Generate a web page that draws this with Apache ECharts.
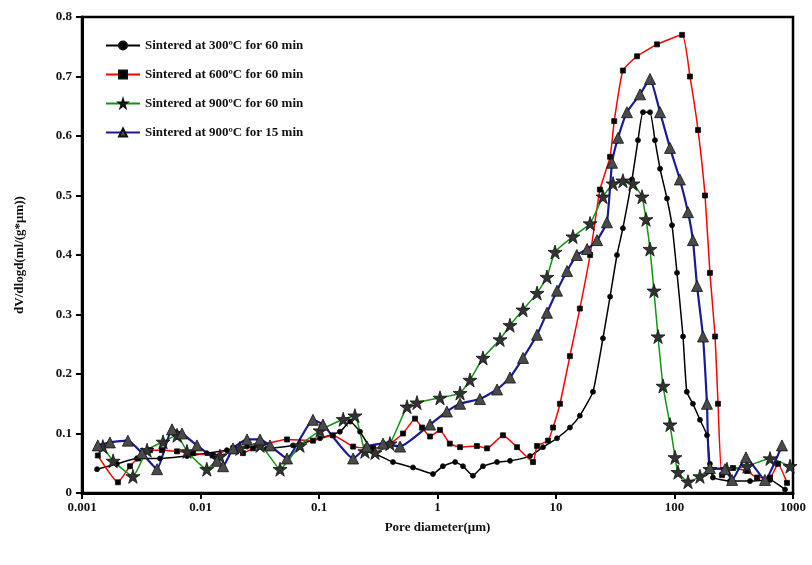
<!DOCTYPE html>
<html>
<head>
<meta charset="utf-8">
<script src="https://cdn.jsdelivr.net/npm/echarts@6/dist/echarts.min.js"></script>
<style>html,body{margin:0;padding:0;background:#fff}#c{width:812px;height:565px}</style>
</head>
<body>
<div id="c"></div>
<script>
var seriesNames = ['Sintered at 300ºC for 60 min','Sintered at 600ºC for 60 min','Sintered at 900ºC for 60 min','Sintered at 900ºC for 15 min'];
var xTickLabels = ['0.001','0.01','0.1','1','10','100','1000'];
var yTickLabels = ['0','0.1','0.2','0.3','0.4','0.5','0.6','0.7','0.8'];

var s300_60 = [[0.00134,0.04],[0.00197,0.049],[0.00291,0.058],[0.00455,0.058],[0.00769,0.062],[0.0113,0.067],[0.0167,0.072],[0.0247,0.078],[0.0364,0.075],[0.0604,0.08],[0.102,0.092],[0.150,0.103],[0.183,0.12],[0.222,0.103],[0.286,0.069],[0.421,0.052],[0.621,0.043],[0.916,0.032],[1.11,0.045],[1.41,0.052],[1.64,0.045],[1.99,0.029],[2.42,0.045],[3.18,0.052],[4.09,0.054],[6.04,0.062],[7.76,0.077],[10.2,0.092],[13.1,0.11],[15.9,0.13],[20.5,0.17],[24.9,0.26],[28.6,0.33],[32.7,0.40],[36.7,0.445],[43.8,0.527],[49.2,0.593],[54.2,0.64],[62.1,0.64],[68.4,0.593],[75.5,0.545],[86.4,0.495],[95.3,0.45],[105,0.37],[118,0.263],[127,0.17],[143,0.15],[164,0.123],[188,0.097],[199,0.049],[211,0.026],[294,0.02],[434,0.02],[640,0.022],[856,0.006]];
var s600_60 = [[0.00136,0.063],[0.00201,0.018],[0.00254,0.045],[0.00297,0.058],[0.00375,0.072],[0.00473,0.072],[0.00634,0.07],[0.00865,0.067],[0.0127,0.063],[0.0188,0.075],[0.0228,0.067],[0.0277,0.075],[0.0318,0.08],[0.0537,0.09],[0.0889,0.088],[0.131,0.097],[0.194,0.078],[0.286,0.075],[0.397,0.083],[0.512,0.1],[0.646,0.125],[0.740,0.11],[0.865,0.095],[1.05,0.106],[1.27,0.083],[1.55,0.077],[2.15,0.079],[2.62,0.075],[3.57,0.097],[4.69,0.077],[6.40,0.052],[6.92,0.079],[8.56,0.088],[9.44,0.11],[10.8,0.15],[13.1,0.23],[15.9,0.31],[19.4,0.40],[23.5,0.51],[28.6,0.565],[31.0,0.625],[36.7,0.71],[48.3,0.734],[71.2,0.754],[116,0.77],[135,0.70],[158,0.61],[181,0.50],[199,0.37],[220,0.263],[233,0.15],[252,0.03],[312,0.042],[409,0.037],[497,0.026],[640,0.026],[747,0.049],[890,0.017]];
var s900_60 = [[0.0015,0.078],[0.00183,0.054],[0.00269,0.028],[0.00354,0.072],[0.00483,0.086],[0.00634,0.097],[0.00769,0.07],[0.0113,0.04],[0.0146,0.062],[0.0215,0.075],[0.0318,0.08],[0.0469,0.04],[0.0691,0.08],[0.102,0.105],[0.160,0.124],[0.201,0.13],[0.244,0.07],[0.297,0.068],[0.397,0.083],[0.553,0.145],[0.671,0.152],[1.05,0.16],[1.55,0.168],[1.88,0.19],[2.42,0.227],[3.37,0.258],[4.09,0.282],[5.27,0.308],[6.92,0.336],[8.39,0.363],[9.81,0.405],[13.9,0.431],[19.4,0.453],[24.9,0.498],[30.3,0.52],[36.7,0.525],[44.6,0.52],[53.2,0.498],[57.5,0.46],[62.1,0.41],[67.1,0.34],[72.6,0.263],[80.0,0.18],[91.6,0.115],[101,0.06],[107,0.035],[130,0.019],[164,0.028],[199,0.04],[277,0.04],[409,0.045],[640,0.058],[944,0.045]];
var s900_15 = [[0.00136,0.08],[0.00172,0.085],[0.00244,0.088],[0.00321,0.067],[0.0043,0.04],[0.00575,0.107],[0.00698,0.1],[0.00934,0.08],[0.0138,0.054],[0.0155,0.045],[0.0188,0.075],[0.0247,0.09],[0.0318,0.09],[0.0386,0.08],[0.0537,0.058],[0.0889,0.123],[0.108,0.115],[0.194,0.058],[0.254,0.078],[0.347,0.083],[0.483,0.078],[0.865,0.115],[1.20,0.137],[1.55,0.15],[2.28,0.158],[3.18,0.174],[4.09,0.194],[5.27,0.227],[6.92,0.266],[8.39,0.303],[10.2,0.34],[12.4,0.373],[15.0,0.40],[18.3,0.41],[22.2,0.425],[26.9,0.455],[29.7,0.555],[33.4,0.597],[39.7,0.64],[51.2,0.67],[62.1,0.696],[75.5,0.64],[91.6,0.58],[111,0.527],[130,0.472],[143,0.425],[155,0.348],[174,0.263],[188,0.15],[199,0.042],[267,0.04],[306,0.022],[401,0.06],[580,0.022],[807,0.08]];

var FONT = '"Liberation Serif", "DejaVu Serif", serif';
var chart = echarts.init(document.getElementById('c'));

function mk(name, data, lineColor, symbol, size, fill, width) {
  return {
    name: name, type: 'line', data: data, smooth: 0.15,
    symbol: symbol, symbolSize: size, showAllSymbol: true,
    lineStyle: { color: lineColor, width: width },
    itemStyle: { color: fill, borderColor: '#111', borderWidth: 0.8 },
    emphasis: { disabled: true }
  };
}

chart.setOption({
  animation: false,
  backgroundColor: '#fff',
  grid: { left: 82, right: 19, top: 17, bottom: 72, show: true, borderColor: '#000', borderWidth: 2.5 },
  legend: {
    orient: 'vertical', left: 100, top: 34, itemGap: 16, itemWidth: 34, itemHeight: 10,
    textStyle: { fontFamily: FONT, fontSize: 13, fontWeight: 'bold', color: '#111' },
    data: seriesNames
  },
  xAxis: {
    type: 'log', logBase: 10, min: 0.001, max: 1000,
    name: 'Pore diameter(μm)', nameLocation: 'middle', nameGap: 28,
    nameTextStyle: { fontFamily: FONT, fontSize: 13, fontWeight: 'bold', color: '#111' },
    axisLine: { show: true, lineStyle: { color: '#000', width: 3 } },
    axisTick: { show: true, inside: false, length: 6, lineStyle: { color: '#000', width: 2 } },
    minorTick: { show: false },
    splitLine: { show: false },
    axisLabel: {
      fontFamily: FONT, fontSize: 13, fontWeight: 'bold', color: '#111', margin: 8,
      formatter: function (v) { var i = Math.round(Math.log10(v)) + 3; return xTickLabels[i] || ''; }
    }
  },
  yAxis: {
    type: 'value', min: 0, max: 0.8, interval: 0.1,
    name: 'dV/dlogd(ml/(g*μm))', nameLocation: 'middle', nameGap: 56, nameRotate: 90,
    nameTextStyle: { fontFamily: FONT, fontSize: 13, fontWeight: 'bold', color: '#111' },
    axisLine: { show: true, lineStyle: { color: '#000', width: 3 } },
    axisTick: { show: true, inside: false, length: 6, lineStyle: { color: '#000', width: 2 } },
    splitLine: { show: false },
    axisLabel: {
      fontFamily: FONT, fontSize: 13, fontWeight: 'bold', color: '#111', margin: 10,
      formatter: function (v) { var i = Math.round(v * 10); return yTickLabels[i] || ''; }
    }
  },
  series: [
    mk(seriesNames[0], s300_60, '#000000', 'circle', 5, '#000', 1.5),
    mk(seriesNames[1], s600_60, '#ff0000', 'rect', 5, '#000', 1.5),
    mk(seriesNames[2], s900_60, '#149414', 'path://M50,0 L61,35 L98,35 L68,57 L79,91 L50,70 L21,91 L32,57 L2,35 L39,35 Z', 14, '#333', 1.5),
    mk(seriesNames[3], s900_15, '#1a1a96', 'triangle', 11, '#4a4a4a', 2.2)
  ]
});
</script>
</body>
</html>
